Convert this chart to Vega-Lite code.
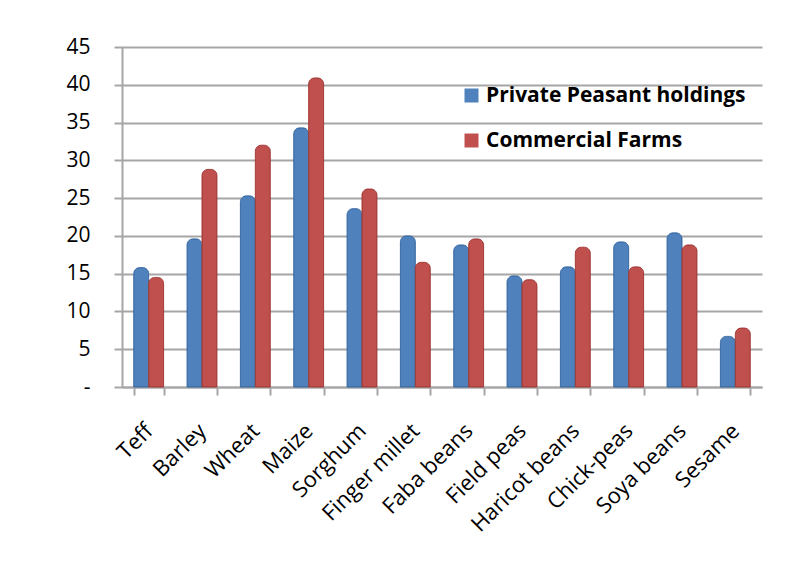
{
  "$schema": "https://vega.github.io/schema/vega-lite/v6.json",
  "autosize": {"type": "none"},
  "width": 640,
  "height": 340,
  "padding": {"left": 122, "top": 47, "right": 45, "bottom": 192},
  "background": "white",
  "data": {
    "values": [
      {"crop": "Teff", "sector": "Private Peasant holdings", "value": 15.8},
      {"crop": "Teff", "sector": "Commercial Farms", "value": 14.5},
      {"crop": "Barley", "sector": "Private Peasant holdings", "value": 19.6},
      {"crop": "Barley", "sector": "Commercial Farms", "value": 28.8},
      {"crop": "Wheat", "sector": "Private Peasant holdings", "value": 25.3},
      {"crop": "Wheat", "sector": "Commercial Farms", "value": 32.0},
      {"crop": "Maize", "sector": "Private Peasant holdings", "value": 34.3},
      {"crop": "Maize", "sector": "Commercial Farms", "value": 40.9},
      {"crop": "Sorghum", "sector": "Private Peasant holdings", "value": 23.6},
      {"crop": "Sorghum", "sector": "Commercial Farms", "value": 26.2},
      {"crop": "Finger millet", "sector": "Private Peasant holdings", "value": 20.0},
      {"crop": "Finger millet", "sector": "Commercial Farms", "value": 16.5},
      {"crop": "Faba beans", "sector": "Private Peasant holdings", "value": 18.8},
      {"crop": "Faba beans", "sector": "Commercial Farms", "value": 19.6},
      {"crop": "Field peas", "sector": "Private Peasant holdings", "value": 14.7},
      {"crop": "Field peas", "sector": "Commercial Farms", "value": 14.2},
      {"crop": "Haricot beans", "sector": "Private Peasant holdings", "value": 15.9},
      {"crop": "Haricot beans", "sector": "Commercial Farms", "value": 18.5},
      {"crop": "Chick-peas", "sector": "Private Peasant holdings", "value": 19.2},
      {"crop": "Chick-peas", "sector": "Commercial Farms", "value": 15.9},
      {"crop": "Soya beans", "sector": "Private Peasant holdings", "value": 20.4},
      {"crop": "Soya beans", "sector": "Commercial Farms", "value": 18.8},
      {"crop": "Sesame", "sector": "Private Peasant holdings", "value": 6.7},
      {"crop": "Sesame", "sector": "Commercial Farms", "value": 7.8}
    ]
  },
  "mark": {
    "type": "bar",
    "cornerRadiusTopLeft": 6,
    "cornerRadiusTopRight": 6,
    "strokeWidth": 1
  },
  "encoding": {
    "x": {
      "field": "crop",
      "type": "nominal",
      "sort": null,
      "title": null,
      "scale": {"paddingInner": 0.44, "paddingOuter": 0.22},
      "axis": {
        "tickBand": "extent",
        "labelAngle": -45,
        "labelAlign": "right",
        "labelBaseline": "middle",
        "labelPadding": 32,
        "labelDx": 6,
        "labelFont": "Open Sans",
        "labelFontSize": 22,
        "labelColor": "black",
        "labelLimit": 0,
        "domainColor": "#A6A6A6",
        "domainWidth": 2,
        "tickColor": "#A6A6A6",
        "tickWidth": 2,
        "tickSize": 8,
        "grid": false
      }
    },
    "xOffset": {
      "field": "sector",
      "type": "nominal",
      "sort": ["Private Peasant holdings", "Commercial Farms"]
    },
    "y": {
      "field": "value",
      "type": "quantitative",
      "title": null,
      "scale": {"domain": [0, 45], "nice": false},
      "axis": {
        "values": [0, 5, 10, 15, 20, 25, 30, 35, 40, 45],
        "labelExpr": "datum.value == 0 ? '-' : datum.label",
        "labelFont": "Open Sans",
        "labelFontSize": 21,
        "labelColor": "black",
        "labelPadding": 24,
        "tickSize": 8,
        "tickColor": "#A6A6A6",
        "tickWidth": 2,
        "domainColor": "#A6A6A6",
        "domainWidth": 2,
        "grid": true,
        "gridColor": "#A6A6A6",
        "gridWidth": 2
      }
    },
    "color": {
      "field": "sector",
      "type": "nominal",
      "sort": ["Private Peasant holdings", "Commercial Farms"],
      "scale": {
        "domain": ["Private Peasant holdings", "Commercial Farms"],
        "range": ["#4F81BD", "#C0504D"]
      },
      "legend": {
        "title": null,
        "orient": "none",
        "legendX": 339,
        "legendY": 38,
        "symbolType": "square",
        "symbolSize": 196,
        "symbolStrokeWidth": 0,
        "labelFont": "Open Sans",
        "labelFontWeight": "bold",
        "labelFontSize": 21,
        "labelColor": "black",
        "labelLimit": 0,
        "labelOffset": 4,
        "rowPadding": 23
      }
    },
    "stroke": {
      "field": "sector",
      "type": "nominal",
      "scale": {
        "domain": ["Private Peasant holdings", "Commercial Farms"],
        "range": ["#3A6AA3", "#A33C3A"]
      },
      "legend": null
    }
  },
  "config": {
    "view": {"stroke": null}
  }
}
